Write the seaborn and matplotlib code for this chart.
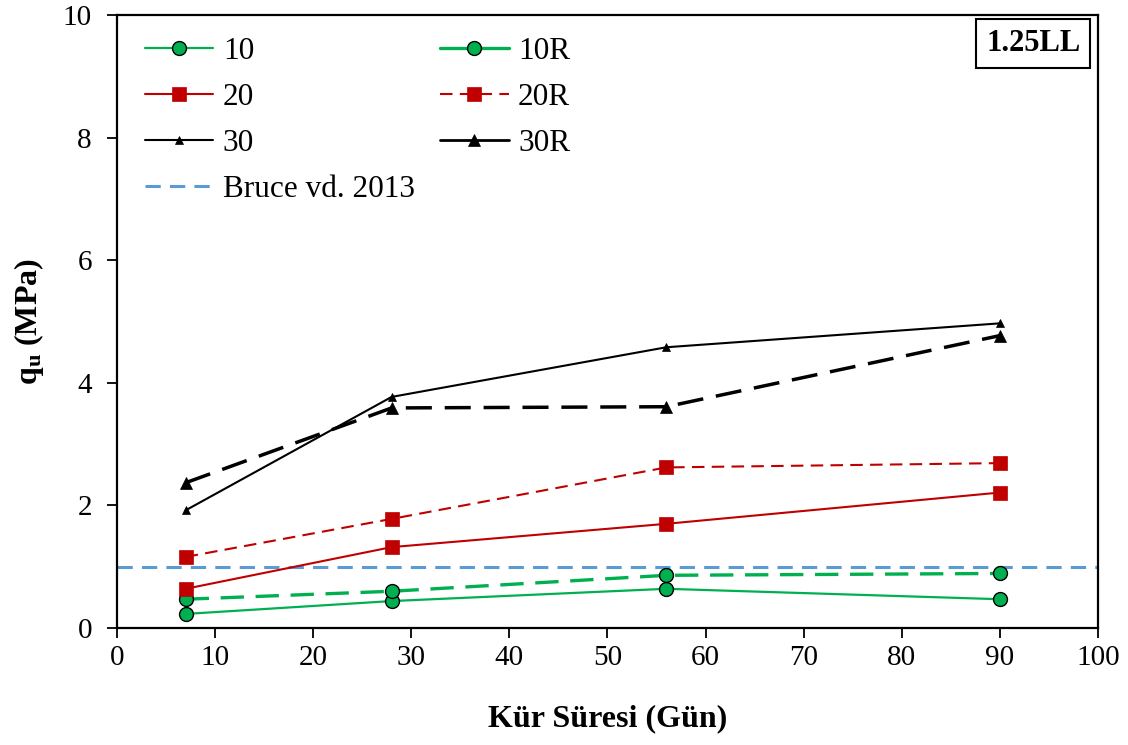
import matplotlib
matplotlib.use("Agg")
import matplotlib.pyplot as plt
from matplotlib.lines import Line2D
import seaborn as sns
import pandas as pd

# Curing times (days) and unconfined compressive strength (MPa)
days = [7, 28, 56, 90]
q_10 = [0.23, 0.44, 0.64, 0.47]
q_10R = [0.47, 0.60, 0.86, 0.89]
q_20 = [0.64, 1.32, 1.70, 2.21]
q_20R = [1.16, 1.78, 2.62, 2.69]
q_30 = [1.92, 3.77, 4.58, 4.97]
q_30R = [2.37, 3.59, 3.61, 4.77]
bruce_ref = 1.0
series_names = ["10", "10R", "20", "20R", "30", "30R"]
ref_label = "Bruce vd. 2013"
panel_tag = "1.25LL"

sns.set_style("ticks")
plt.rcParams["font.family"] = ["Liberation Serif", "DejaVu Serif"]
plt.rcParams["text.color"] = "black"
plt.rcParams["axes.labelcolor"] = "black"
plt.rcParams["mathtext.fontset"] = "custom"
plt.rcParams["mathtext.rm"] = "Liberation Serif"
plt.rcParams["mathtext.bf"] = "Liberation Serif:bold"
plt.rcParams["mathtext.it"] = "Liberation Serif:italic"

GREEN = "#00B050"
RED = "#C00000"
BLACK = "#000000"
BLUE = "#5B9BD5"

styles = {
    "10":  dict(color=GREEN, marker="o", ms=10, lw=1.6, dashes=None, mec="black", mew=1.0),
    "10R": dict(color=GREEN, marker="o", ms=10, lw=2.4, dashes=(7, 3.5), mec="black", mew=1.0),
    "20":  dict(color=RED, marker="s", ms=10, lw=1.5, dashes=None, mec=RED, mew=0.5),
    "20R": dict(color=RED, marker="s", ms=10, lw=1.5, dashes=(6, 3.5), mec=RED, mew=0.5),
    "30":  dict(color=BLACK, marker="^", ms=5.5, lw=1.5, dashes=None, mec=BLACK, mew=0.5),
    "30R": dict(color=BLACK, marker="^", ms=8.5, lw=2.5, dashes=(7.5, 3.7), mec=BLACK, mew=0.5),
}
values = {"10": q_10, "10R": q_10R, "20": q_20, "20R": q_20R, "30": q_30, "30R": q_30R}

df = pd.DataFrame(
    [(name, d, v) for name in series_names for d, v in zip(days, values[name])],
    columns=["seri", "gun", "qu"],
)

fig = plt.figure(figsize=(11.28, 7.45), dpi=100)
ax = fig.add_axes([0.1037, 0.157, 0.8697, 0.8229])

ax.axhline(bruce_ref, color=BLUE, lw=2.2, dashes=(5, 3), zorder=1)

for name in series_names:
    st = styles[name]
    sub = df[df["seri"] == name]
    line_kw = {}
    if st["dashes"] is not None:
        line_kw["dashes"] = st["dashes"]
    sns.lineplot(data=sub, x="gun", y="qu", ax=ax, color=st["color"], lw=st["lw"],
                 marker=st["marker"], markersize=st["ms"], markeredgecolor=st["mec"],
                 markeredgewidth=st["mew"], legend=False, zorder=3, **line_kw)

ax.set_xlim(0, 100)
ax.set_ylim(0, 10)
ax.set_xticks(range(0, 101, 10))
ax.set_yticks(range(0, 11, 2))
for s in ax.spines.values():
    s.set_linewidth(1.6)
    s.set_color("black")
ax.tick_params(axis="both", direction="out", length=7, width=1.3, labelsize=21,
               colors="black")
ax.tick_params(axis="x", pad=5)
ax.tick_params(axis="y", pad=11)

ax.set_xlabel("Kür Süresi (Gün)", fontsize=23, fontweight="bold", labelpad=24)
ax.set_ylabel(r"q$_{\mathbf{u}}$ (MPa)", fontsize=23, fontweight="bold", labelpad=12)

ax.text(0.982, 0.977, panel_tag, transform=ax.transAxes, ha="right", va="top",
        fontsize=22, fontweight="bold",
        bbox=dict(boxstyle="square,pad=0.32", fc="white", ec="black", lw=1.5))

# Legend handles: the R-series entries are shown with continuous lines
def handle(name, ls="-"):
    st = styles[name]
    return Line2D([], [], color=st["color"], lw=st["lw"] if name != "30R" else 2.0,
                  ls=ls, marker=st["marker"], markersize=st["ms"],
                  markeredgecolor=st["mec"], markeredgewidth=st["mew"])

h = [handle("10"), handle("20"), handle("30"),
     Line2D([], [], color=BLUE, lw=2.2, dashes=(5, 3)),
     handle("10R"), Line2D([], [], color=RED, lw=1.5, dashes=(6, 3.5), marker="s",
                           markersize=10, markeredgecolor=RED, markeredgewidth=0.5),
     handle("30R")]
labels = ["10", "20", "30", ref_label, "10R", "20R", "30R"]
ax.legend(h, labels, ncol=2, loc="upper left", bbox_to_anchor=(0.006, 1.0),
          frameon=False, fontsize=22.5, handlelength=2.2, labelspacing=0.55,
          columnspacing=0.8, handletextpad=0.3, borderpad=0.2)

fig.savefig("out.png", dpi=100)
